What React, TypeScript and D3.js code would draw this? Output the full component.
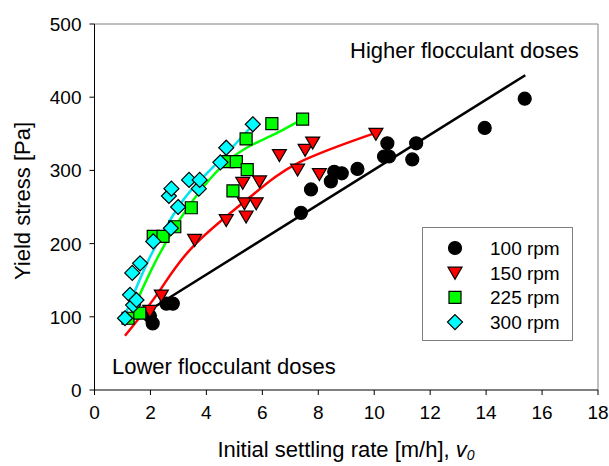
import React from "react";
import * as d3 from "d3";

const xTicks = [0, 2, 4, 6, 8, 10, 12, 14, 16, 18];
const yTicks = [0, 100, 200, 300, 400, 500];

const rpm100V = [1.98, 2.08, 2.57, 2.8, 7.38, 7.74, 8.45, 8.57, 8.84, 9.4, 10.35, 10.53, 10.47, 11.36, 11.5, 13.95, 15.38];
const rpm100S = [101, 91, 118, 118, 242, 274, 285, 298, 296, 302, 319, 319, 337, 315, 337, 358, 398];

const rpm150V = [1.98, 2.39, 3.58, 4.71, 5.3, 5.36, 5.42, 5.78, 5.9, 6.61, 7.26, 7.53, 7.8, 8.04, 10.06];
const rpm150S = [108, 129, 205, 232, 283, 255, 237, 255, 285, 321, 301, 328, 338, 295, 350];

const rpm225V = [1.2, 1.62, 2.1, 2.45, 2.87, 3.46, 4.77, 4.95, 5.07, 5.42, 5.46, 6.34, 7.44];
const rpm225S = [98, 105, 210, 210, 223, 249, 312, 272, 312, 343, 301, 364, 370];

const rpm300V = [1.09, 1.27, 1.38, 1.5, 1.35, 1.63, 2.1, 2.73, 2.66, 2.75, 2.99, 3.38, 3.73, 3.76, 4.5, 4.71, 5.66];
const rpm300S = [98, 130, 116, 123, 160, 173, 203, 221, 265, 275, 250, 287, 275, 287, 311, 331, 363];

const fit100V = [2.0, 15.4];
const fit100S = [110, 430];
const fit150V = [1.09, 2.3, 3.52, 5.54, 7.32, 10.1];
const fit150S = [74, 134, 196, 263, 311, 352];
const fit225V = [1.15, 1.98, 3.05, 4.71, 6.25, 7.38];
const fit225S = [90, 160, 233, 311, 346, 369];
const fit300V = [1.03, 1.9, 2.75, 3.5, 4.59, 5.66];
const fit300S = [96, 175, 235, 275, 318, 362];

const legendLabels = ["100 rpm", "150 rpm", "225 rpm", "300 rpm"];

type Kind = "circle" | "tri" | "square" | "diamond";

function markerPath(kind: Kind): string {
  if (kind === "circle") return d3.symbol(d3.symbolCircle, 133)() as string;
  if (kind === "square") return "M-6,-6H6V6H-6Z";
  if (kind === "diamond") return "M0,-7.5L7.5,0L0,7.5L-7.5,0Z";
  return "M-7,-5.5L7,-5.5L0,6.5Z";
}

export default function App() {
  const W = 609, H = 466;
  const x = d3.scaleLinear().domain([0, 18]).range([94.5, 598]);
  const y = d3.scaleLinear().domain([0, 500]).range([390, 24]);
  const font = "Liberation Sans, Arial, sans-serif";

  const series = [
    { v: rpm100V, s: rpm100S, kind: "circle" as Kind, fill: "#000000", fv: fit100V, fs: fit100S, line: "#000000" },
    { v: rpm150V, s: rpm150S, kind: "tri" as Kind, fill: "#ff0000", fv: fit150V, fs: fit150S, line: "#ff0000" },
    { v: rpm225V, s: rpm225S, kind: "square" as Kind, fill: "#00ff00", fv: fit225V, fs: fit225S, line: "#00ff00" },
    { v: rpm300V, s: rpm300S, kind: "diamond" as Kind, fill: "#00ffff", fv: fit300V, fs: fit300S, line: "#00e5ee" },
  ];

  const lineGen = d3
    .line<[number, number]>()
    .x((d) => x(d[0]))
    .y((d) => y(d[1]))
    .curve(d3.curveNatural);

  const x0 = x(0), x1 = x(18), y0 = y(0), y1 = y(500);

  return (
    <svg width={W} height={H} style={{ position: "absolute", left: 0, top: 0, background: "#fff" }} fontFamily={font}>
      <rect x={0} y={0} width={W} height={H} fill="#fff" />
      {/* frame */}
      <line x1={x0} x2={x1} y1={y1} y2={y1} stroke="#808080" strokeWidth={1} />
      <line x1={x1} x2={x1} y1={y1} y2={y0} stroke="#808080" strokeWidth={1} />
      <line x1={x0} x2={x0} y1={y1} y2={y0} stroke="#000" strokeWidth={1} />
      <line x1={x0} x2={x1} y1={y0} y2={y0} stroke="#000" strokeWidth={1} />
      {xTicks.map((t) => (
        <g key={"x" + t}>
          <line x1={x(t)} x2={x(t)} y1={y0} y2={y0 + 5} stroke="#000" />
          <text x={x(t)} y={y0 + 29} fontSize={19} textAnchor="middle" fill="#000">
            {t}
          </text>
        </g>
      ))}
      {yTicks.map((t) => (
        <g key={"y" + t}>
          <line x1={x0 - 5} x2={x0} y1={y(t)} y2={y(t)} stroke="#000" />
          <text x={x0 - 13} y={y(t) + 7} fontSize={19} textAnchor="end" fill="#000">
            {t}
          </text>
        </g>
      ))}
      {/* fit lines */}
      {series.map((se, i) => (
        <path
          key={"f" + i}
          d={lineGen(se.fv.map((v, j) => [v, se.fs[j]] as [number, number])) as string}
          fill="none"
          stroke={se.line}
          strokeWidth={2.5}
        />
      ))}
      {/* markers */}
      {series.map((se, i) => (
        <g key={"m" + i}>
          {se.v.map((v, j) => (
            <path
              key={j}
              d={markerPath(se.kind)}
              transform={`translate(${x(v)},${y(se.s[j])})`}
              fill={se.fill}
              stroke="#000"
              strokeWidth={1.2}
            />
          ))}
        </g>
      ))}
      {/* annotations */}
      <text x={350} y={58} fontSize={22} fill="#000">Higher flocculant doses</text>
      <text x={112} y={374} fontSize={22} fill="#000">Lower flocculant doses</text>
      {/* legend */}
      <rect x={422.5} y={227.5} width={150} height={113} fill="#fff" stroke="#808080" strokeWidth={1} />
      {series.map((se, i) => (
        <g key={"l" + i} transform={`translate(0,${248 + i * 24.7})`}>
          <path d={markerPath(se.kind)} transform="translate(455,0)" fill={se.fill} stroke="#000" strokeWidth={1.2} />
          <text x={490} y={7} fontSize={19} fill="#000">{legendLabels[i]}</text>
        </g>
      ))}
      {/* axis titles */}
      <text x={346} y={457} fontSize={22} textAnchor="middle" fill="#000">
        Initial settling rate [m/h], <tspan fontStyle="italic">v</tspan>
        <tspan fontStyle="italic" fontSize={14} dy={3}>0</tspan>
      </text>
      <text transform={`translate(30,201) rotate(-90)`} fontSize={22} textAnchor="middle" fill="#000">
        Yield stress [Pa]
      </text>
    </svg>
  );
}
